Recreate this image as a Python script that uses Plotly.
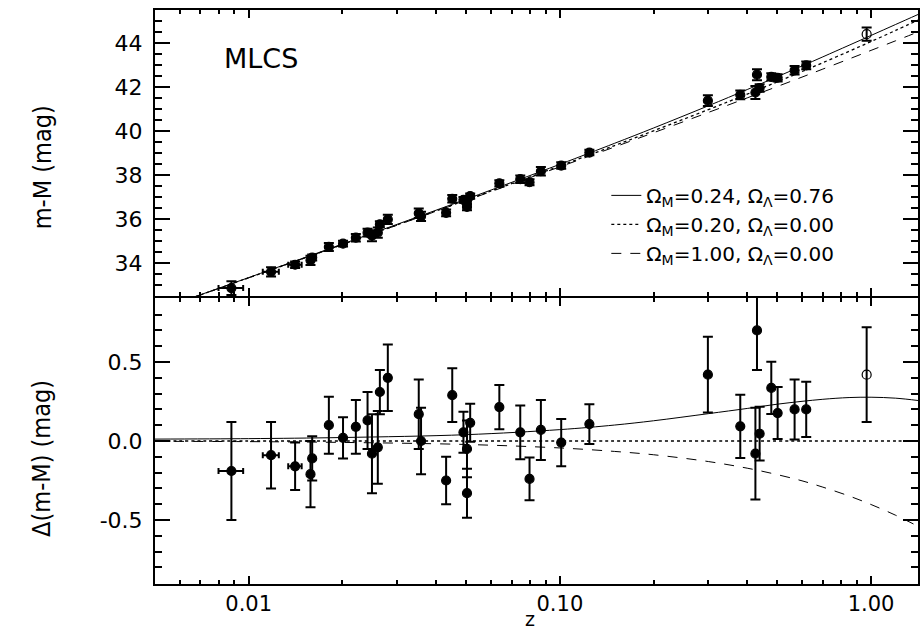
import plotly.graph_objects as go

# ---------------- data ----------------
# nearby (low-z) supernovae
z_low = [0.0088, 0.0118, 0.0141, 0.0158, 0.0160, 0.0181, 0.0201, 0.0221, 0.0241,
         0.0249, 0.0260, 0.0264, 0.0280, 0.0352, 0.0358, 0.0431, 0.0451, 0.0490,
         0.0503, 0.0503, 0.0515, 0.0639, 0.0746, 0.0799, 0.0869, 0.1010, 0.1244]
zerr_low = [0.0008, 0.0007, 0.0007, 0, 0, 0, 0, 0, 0, 0, 0, 0, 0, 0, 0, 0, 0, 0,
            0, 0, 0, 0, 0, 0, 0, 0, 0]
mu_low = [32.86, 33.60, 33.92, 34.12, 34.25, 34.73, 34.88, 35.15, 35.38,
          35.24, 35.38, 35.76, 35.98, 36.26, 36.12, 36.28, 36.92, 36.87,
          36.83, 36.55, 37.04, 37.62, 37.81, 37.67, 38.17, 38.43, 39.02]
res_low = [-0.19, -0.09, -0.16, -0.21, -0.11, 0.10, 0.02, 0.09, 0.13,
           -0.08, -0.04, 0.31, 0.40, 0.17, 0.00, -0.25, 0.29, 0.055,
           -0.05, -0.33, 0.115, 0.215, 0.055, -0.24, 0.07, -0.01, 0.107]
err_low = [0.31, 0.21, 0.15, 0.21, 0.14, 0.18, 0.13, 0.17, 0.18,
           0.25, 0.23, 0.14, 0.21, 0.22, 0.21, 0.15, 0.17, 0.13,
           0.18, 0.155, 0.12, 0.14, 0.17, 0.135, 0.19, 0.15, 0.126]

# high-z supernovae (filled)
z_high = [0.299, 0.380, 0.425, 0.430, 0.4385, 0.478, 0.501, 0.568, 0.619]
mu_high = [41.38, 41.64, 41.75, 42.56, 41.95, 42.46, 42.42, 42.76, 42.98]
res_high = [0.42, 0.093, -0.08, 0.70, 0.046, 0.336, 0.177, 0.20, 0.20]
err_high = [0.24, 0.20, 0.29, 0.25, 0.17, 0.165, 0.165, 0.19, 0.175]

# high-z supernova shown as open symbol
z_open = [0.968]
mu_open = [44.40]
res_open = [0.42]
err_open = [0.30]

# model curves
z_model = [0.005, 0.01, 0.02, 0.05, 0.1, 0.15, 0.2, 0.3, 0.4, 0.5, 0.6, 0.7,
           0.85, 1.0, 1.2, 1.42]
mu_lambda = [31.823, 33.337, 34.860, 36.900, 38.486, 39.442, 40.136, 41.146,
             41.884, 42.469, 42.954, 43.370, 43.898, 44.343, 44.843, 45.305]
mu_open_model = [31.819, 33.329, 34.844, 36.862, 38.414, 39.340, 40.008, 40.973,
                 41.677, 42.236, 42.703, 43.106, 43.623, 44.066, 44.572, 45.049]
mu_flat = [31.817, 33.325, 34.835, 36.840, 38.370, 39.275, 39.921, 40.843,
           41.505, 42.023, 42.450, 42.814, 43.275, 43.664, 44.102, 44.508]
d_lambda = [0.012, 0.015, 0.022, 0.040, 0.072, 0.101, 0.128, 0.173, 0.206,
            0.233, 0.251, 0.264, 0.275, 0.277, 0.271, 0.256]
d_open = [0.0] * len(z_model)
d_flat = [-0.002, -0.004, -0.009, -0.022, -0.044, -0.066, -0.087, -0.130,
          -0.172, -0.213, -0.252, -0.292, -0.348, -0.402, -0.470, -0.541]

legend_names = ["Ω<sub>M</sub>=0.24, Ω<sub>Λ</sub>=0.76",
                "Ω<sub>M</sub>=0.20, Ω<sub>Λ</sub>=0.00",
                "Ω<sub>M</sub>=1.00, Ω<sub>Λ</sub>=0.00"]
x_ticks = [0.01, 0.1, 1.0]
x_ticktext = ["0.01", "0.10", "1.00"]
y_res_ticks = [-0.5, 0.0, 0.5]
y_res_ticktext = ["-0.5", "0.0", "0.5"]

# ---------------- figure ----------------
fig = go.Figure()

curve_styles = [dict(color="black", width=1),
                dict(color="black", width=1.3, dash="dot"),
                dict(color="black", width=1, dash="10px,9px")]

for name, mu, st in zip(legend_names, [mu_lambda, mu_open_model, mu_flat], curve_styles):
    fig.add_trace(go.Scatter(x=z_model, y=mu, mode="lines", line=dict(shape="spline", **st),
                             name=name, xaxis="x2", yaxis="y2", hoverinfo="skip"))
for d, st in zip([d_lambda, d_open, d_flat], curve_styles):
    fig.add_trace(go.Scatter(x=z_model, y=d, mode="lines", line=dict(shape="spline", **st),
                             showlegend=False, xaxis="x", yaxis="y", hoverinfo="skip"))

def pts(x, y, e, xe=None, open_sym=False, xa="x", ya="y"):
    kw = dict(x=x, y=y, mode="markers", showlegend=False, xaxis=xa, yaxis=ya,
              cliponaxis=False,
              marker=dict(color="black", size=9,
                          symbol="circle-open" if open_sym else "circle",
                          line=dict(color="black", width=1.2)),
              error_y=dict(type="data", array=e, color="black", thickness=2, width=5))
    if xe is not None:
        kw["error_x"] = dict(type="data", array=xe, color="black", thickness=2, width=3)
    return go.Scatter(**kw)

# upper panel
fig.add_trace(pts(z_low, mu_low, err_low, zerr_low, xa="x2", ya="y2"))
fig.add_trace(pts(z_high, mu_high, err_high, xa="x2", ya="y2"))
fig.add_trace(pts(z_open, mu_open, err_open, open_sym=True, xa="x2", ya="y2"))
# lower panel
fig.add_trace(pts(z_low, res_low, err_low, zerr_low))
fig.add_trace(pts(z_high, res_high, err_high))
fig.add_trace(pts(z_open, res_open, err_open, open_sym=True))

axis_common = dict(showline=True, linecolor="black", linewidth=2, mirror="allticks",
                   ticks="inside", tickcolor="black", tickwidth=1.5,
                   showgrid=False, zeroline=False,
                   tickfont=dict(family="DejaVu Sans", size=22, color="black"))

narrow = "DejaVu Sans Condensed, Liberation Sans Narrow, Arial Narrow, sans-serif"
xrange = [-2.30103, 0.15089]
fig.update_layout(
    width=920, height=631,
    margin=dict(l=155, r=0, t=10, b=47),
    paper_bgcolor="white", plot_bgcolor="white",
    font=dict(family="DejaVu Sans", size=22, color="black"),
    xaxis=dict(type="log", range=xrange, tickvals=x_ticks, ticktext=x_ticktext,
               ticklen=8, anchor="y", domain=[0, 1], ticklabelstandoff=0,
               minor=dict(ticks="inside", ticklen=4, tickwidth=1.5, tickcolor="black",
                          dtick="D1", showgrid=False),
               **{**axis_common, "tickfont": dict(family="DejaVu Sans", size=21, color="black")}),
    xaxis2=dict(type="log", range=xrange, tickvals=x_ticks, ticktext=x_ticktext,
                ticklen=8, anchor="y2", matches="x", showticklabels=False, domain=[0, 1],
                minor=dict(ticks="inside", ticklen=4, tickwidth=1.5, tickcolor="black",
                           dtick="D1", showgrid=False),
                **axis_common),
    yaxis=dict(domain=[0, 0.49826], range=[-0.905, 0.905], tickvals=y_res_ticks,
               ticktext=y_res_ticktext, ticklen=15, anchor="x", ticklabelstandoff=6,
               minor=dict(ticks="inside", ticklen=7, tickwidth=1.5, tickcolor="black",
                          tickmode="linear", tick0=0, dtick=0.1, showgrid=False),
               **axis_common),
    yaxis2=dict(domain=[0.50174, 1], range=[32.5, 45.5], tick0=0, dtick=2, ticklen=15,
                anchor="x2", ticklabelstandoff=6,
                minor=dict(ticks="inside", ticklen=7, tickwidth=1.5, tickcolor="black",
                           tickmode="linear", tick0=0, dtick=0.5, showgrid=False),
                **axis_common),
    legend=dict(x=0.5915, y=0.711, xanchor="left", yanchor="top",
                bgcolor="rgba(0,0,0,0)", borderwidth=0, itemwidth=30,
                font=dict(family="DejaVu Sans", size=20, color="black")),
    annotations=[
        dict(text="MLCS", x=0.0876, y=0.9154, xref="paper", yref="paper",
             xanchor="left", yanchor="middle", showarrow=False,
             font=dict(family="DejaVu Sans", size=27, color="black")),
        dict(text="m-M (mag)", x=-0.148, y=0.726, xref="paper", yref="paper",
             textangle=-90, xanchor="center", yanchor="middle", showarrow=False,
             font=dict(family=narrow, size=25, color="black")),
        dict(text="Δ(m-M) (mag)", x=-0.148, y=0.218, xref="paper", yref="paper",
             textangle=-90, xanchor="center", yanchor="middle", showarrow=False,
             font=dict(family=narrow, size=25, color="black")),
        dict(text="z", x=0.4915, y=-0.0836, xref="paper", yref="paper",
             xanchor="center", yanchor="bottom", showarrow=False,
             font=dict(family="DejaVu Sans", size=19, color="black")),
    ],
)

fig.write_html("out.html")
